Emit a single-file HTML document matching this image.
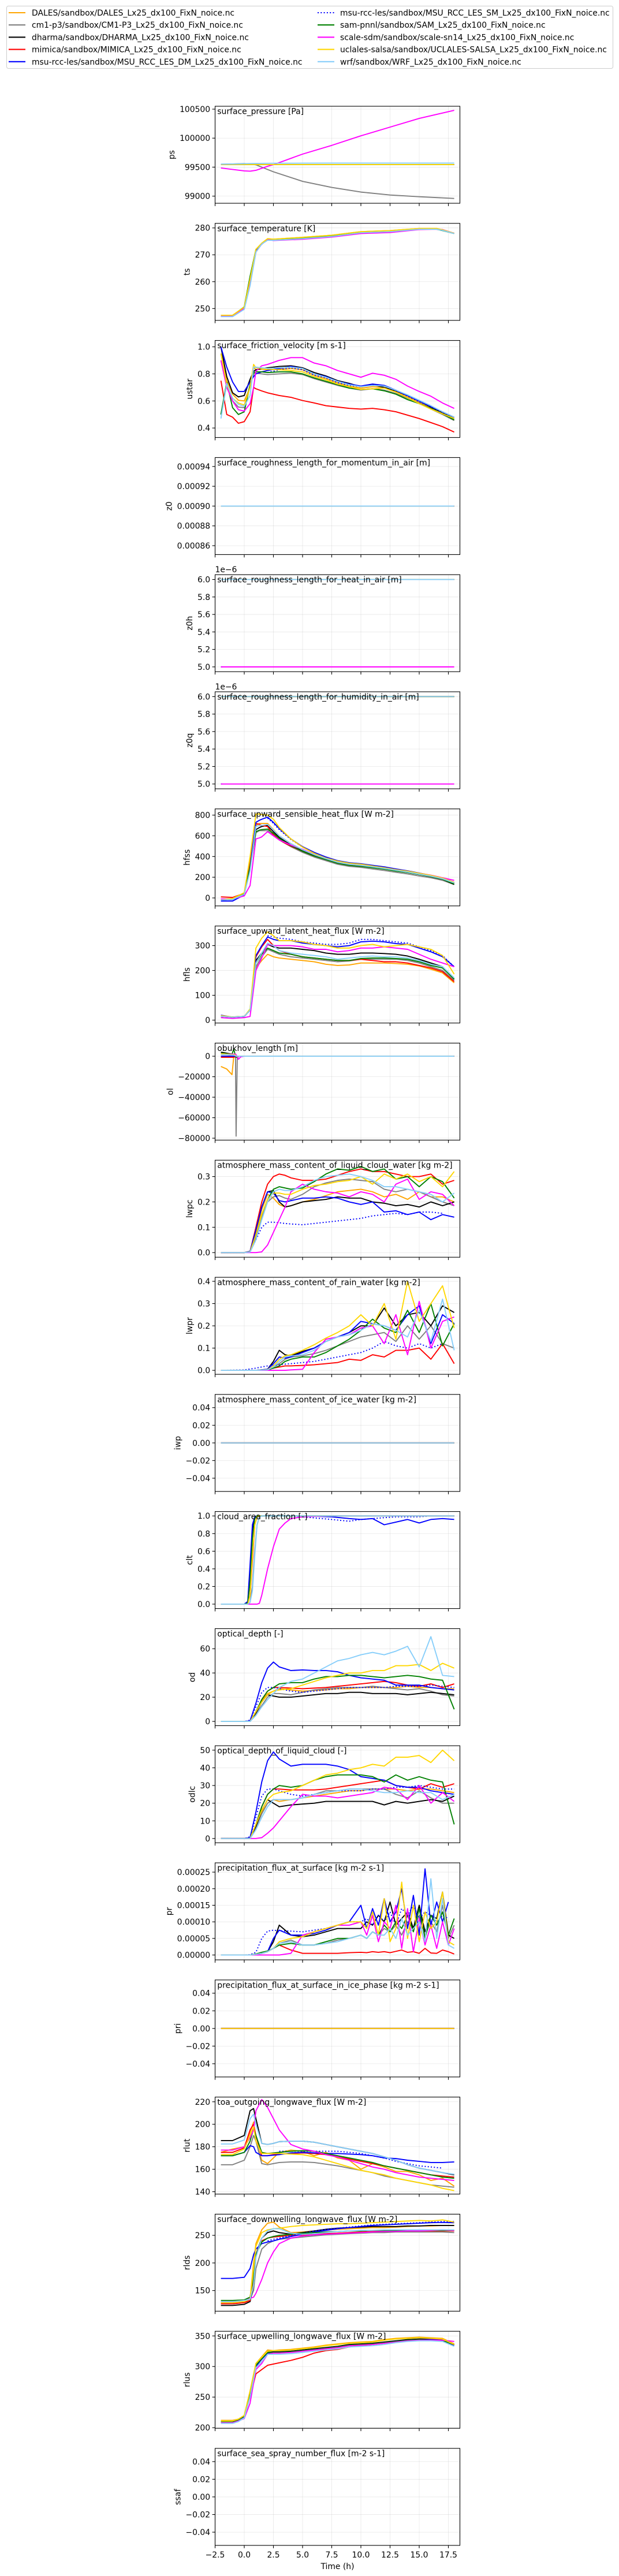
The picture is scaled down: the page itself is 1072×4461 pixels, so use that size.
<!DOCTYPE html>
<html><head><meta charset="utf-8"><title>Surface time series comparison</title>
<style>
html,body{margin:0;padding:0;background:#fff;}
svg{display:block;font-family:"DejaVu Sans","Liberation Sans",sans-serif;}
</style></head>
<body>
<svg id="chart" width="1072" height="4461" viewBox="0 0 1072 4461" xmlns="http://www.w3.org/2000/svg"></svg>
<script>
// ---------- legend / series ----------
const seriesNames = ["DALES/sandbox/DALES_Lx25_dx100_FixN_noice.nc","cm1-p3/sandbox/CM1-P3_Lx25_dx100_FixN_noice.nc","dharma/sandbox/DHARMA_Lx25_dx100_FixN_noice.nc","mimica/sandbox/MIMICA_Lx25_dx100_FixN_noice.nc","msu-rcc-les/sandbox/MSU_RCC_LES_DM_Lx25_dx100_FixN_noice.nc","msu-rcc-les/sandbox/MSU_RCC_LES_SM_Lx25_dx100_FixN_noice.nc","sam-pnnl/sandbox/SAM_Lx25_dx100_FixN_noice.nc","scale-sdm/sandbox/scale-sn14_Lx25_dx100_FixN_noice.nc","uclales-salsa/sandbox/UCLALES-SALSA_Lx25_dx100_FixN_noice.nc","wrf/sandbox/WRF_Lx25_dx100_FixN_noice.nc"];
const seriesColors = ["#FFA500","#808080","#000000","#FF0000","#0000FF","#0000FF","#008000","#FF00FF","#FFD700","#87CEFA"];
const xTicks = [-2.5,0,2.5,5,7.5,10,12.5,15,17.5];
const N = null;

// ---------- data ----------
const psTime = [-2,-1,0,0.5,1,1.5,2,2.5,5,7.5,10,12.5,15,18];
const psTicks = [99000,99500,100000,100500];
const psValues = [
 [99545,99545,99545,99545,99545,99545,99545,99545,99545,99545,99545,99545,99545,99545],
 [99550,99555,99562,99555,99540,99500,99460,99420,99255,99150,99070,99020,98990,98960],
 [99545,99545,99545,99545,99545,99545,99545,99545,99545,99545,99545,99545,99545,99545],
 [99545,99545,99545,99545,99545,99545,99545,99545,99545,99545,99545,99545,99545,99545],
 [99545,99545,99545,99545,99545,99545,99545,99545,99545,99545,99545,99545,99545,99545],
 [N,N,N,N,N,N,N,N,N,N,N,N,N,N],
 [99545,99545,99545,99545,99545,99545,99545,99545,99545,99545,99545,99545,99545,99545],
 [99485,99460,99435,99430,99445,99480,99515,99542,99725,99875,100040,100190,100340,100480],
 [99545,99545,99545,99545,99545,99545,99545,99545,99545,99545,99545,99545,99545,99545],
 [99552,99555,99560,99562,99563,99565,99566,99567,99568,99570,99570,99570,99570,99570]];

const tsTime = [-2,-1,0,0.5,1,1.5,2,2.5,5,7.5,10,12.5,15,16.5,17,18];
const tsTicks = [250,260,270,280];
const tsValues = [
 [247.5,247.5,250.5,261,272,274.3,276,275.8,276.5,277.3,278.6,279,279.8,279.8,279.3,278],
 [247.3,247.3,250.2,261,271.5,274,275.6,275.4,276.2,277,278.3,278.7,279.6,279.6,279.2,278],
 [247.3,247.3,250.2,261,271.5,274,275.6,275.4,276.2,277,278.3,278.7,279.6,279.6,279.2,278],
 [247.3,247.3,250.2,261,271.5,274,275.6,275.4,276.2,277,278.3,278.7,279.6,279.6,279.2,278],
 [247.1,247.1,250,260.5,271.3,274,275.6,275.4,276.1,277,278.3,278.7,279.5,279.5,279.2,278],
 [N,N,N,N,N,N,N,N,N,N,N,N,N,N,N,N],
 [247.4,247.4,250.6,262,272,274.2,275.8,275.6,276.3,277.1,278.4,278.8,279.6,279.5,279,277.9],
 [247.3,247.3,250,259,271,274,275.7,275.3,275.8,276.6,277.9,278.3,279.4,279.5,279.4,278],
 [247.5,247.5,250.5,261,272,274.3,276,275.8,276.5,277.3,278.6,279,279.8,279.8,279.3,278],
 [247,247,249.7,258.5,271,274,275.4,275.4,276,276.8,278.2,278.6,279.5,279.5,279.1,277.9]];

const ustarTime = [-2,-1.5,-1,-0.5,0,0.5,0.8,1,1.5,2,3,4,5,6,7,8,9,10,11,12,13,14,15,16,17,18];
const ustarTicks = [0.4,0.6,0.8,1.0];
const ustarValues = [
 [0.95,0.75,0.65,0.605,0.6,0.7,0.85,0.83,0.835,0.83,0.835,0.84,0.83,0.79,0.765,0.735,0.71,0.695,0.705,0.7,0.67,0.63,0.59,0.55,0.51,0.48],
 [0.5,0.72,0.6,0.555,0.55,0.72,0.8,0.805,0.8,0.795,0.8,0.805,0.795,0.765,0.74,0.715,0.695,0.68,0.69,0.68,0.655,0.62,0.585,0.54,0.5,0.455],
 [1.0,0.78,0.66,0.63,0.64,0.76,0.82,0.83,0.84,0.845,0.855,0.86,0.845,0.81,0.785,0.75,0.73,0.705,0.72,0.7,0.675,0.64,0.6,0.555,0.515,0.47],
 [0.75,0.5,0.48,0.435,0.447,0.52,0.7,0.69,0.674,0.66,0.64,0.627,0.603,0.585,0.565,0.555,0.545,0.54,0.545,0.535,0.52,0.495,0.47,0.44,0.41,0.37],
 [1.0,0.85,0.74,0.67,0.67,0.74,0.78,0.8,0.815,0.825,0.84,0.855,0.84,0.8,0.78,0.745,0.725,0.71,0.725,0.715,0.68,0.64,0.6,0.56,0.52,0.48],
 [N,N,N,N,N,N,N,N,N,0.81,0.83,0.845,0.83,0.79,0.77,0.735,0.715,0.705,0.72,0.71,0.675,0.635,0.595,0.555,0.515,0.475],
 [0.5,0.74,0.55,0.5,0.52,0.72,0.81,0.815,0.815,0.81,0.815,0.815,0.8,0.77,0.745,0.72,0.695,0.685,0.69,0.675,0.65,0.61,0.58,0.545,0.505,0.46],
 [0.9,0.7,0.6,0.535,0.525,0.58,0.7,0.82,0.86,0.87,0.9,0.92,0.92,0.88,0.86,0.825,0.8,0.775,0.805,0.79,0.76,0.71,0.67,0.635,0.585,0.545],
 [0.95,0.72,0.62,0.585,0.57,0.7,0.87,0.845,0.84,0.835,0.83,0.825,0.815,0.78,0.755,0.725,0.705,0.685,0.69,0.695,0.665,0.625,0.58,0.54,0.505,0.47],
 [0.47,0.73,0.62,0.575,0.56,0.64,0.85,0.85,0.845,0.84,0.845,0.85,0.84,0.8,0.775,0.745,0.72,0.705,0.715,0.71,0.68,0.645,0.605,0.565,0.52,0.48]];

const flatTime = [-2,-1.9,18];
const z0Ticks = [0.00086,0.00088,0.00090,0.00092,0.00094];
const z0Values = [
 [0.0009,0.0009,0.0009],[0.0009,0.0009,0.0009],[0.0009,0.0009,0.0009],[0.0009,0.0009,0.0009],
 [0.0009,0.0009,N],[N,N,N],[0.0009,0.0009,0.0009],[0.0009,0.0009,0.0009],[0.0009,0.0009,0.0009],[0.0009,0.0009,0.0009]];
const z0hTicks = [5.0,5.2,5.4,5.6,5.8,6.0];
const z0hValues = [[6,6,6],[6,6,6],[6,6,6],[6,6,6],[5,5,N],[N,N,N],[6,6,6],[5,5,5],[6,6,6],[6,6,6]];
const z0qTicks = [5.0,5.2,5.4,5.6,5.8,6.0];
const z0qValues = [[6,6,6],[6,6,6],[6,6,6],[6,6,6],[5,5,N],[N,N,N],[6,6,6],[5,5,5],[6,6,6],[6,6,6]];

const hfssTime = [-2,-1,0,0.5,1,1.3,1.5,2,2.5,3,4,5,6,7,8,9,10,11,12,13,14,15,16,17,18];
const hfssTicks = [0,200,400,600,800];
const hfssValues = [
 [-15,-5,50,350,700,720,720,720,660,600,525,465,420,385,350,330,320,305,290,270,255,235,215,190,150],
 [-15,-15,35,280,630,650,650,650,610,560,495,440,395,360,325,305,295,280,265,248,232,212,195,170,130],
 [-20,-15,40,290,660,680,690,700,640,585,510,455,410,375,340,320,310,295,280,262,246,226,205,180,130],
 [10,5,45,320,720,710,700,690,610,560,500,450,405,375,345,325,315,302,288,270,255,237,218,193,150],
 [-30,-30,30,300,730,750,760,780,730,670,570,495,440,395,360,340,330,315,300,280,262,240,218,193,145],
 [N,N,N,N,N,N,N,770,720,660,565,490,435,392,358,338,328,313,298,278,260,238,216,191,145],
 [-15,-10,40,300,640,655,660,665,625,575,505,450,405,370,335,315,305,292,278,260,245,226,206,180,135],
 [-10,-10,20,120,570,580,590,640,600,560,510,470,420,380,345,325,315,305,290,272,255,238,220,195,170],
 [-20,-5,50,400,810,810,805,800,760,680,570,490,430,385,355,335,325,308,292,273,258,238,218,192,150],
 [-20,-15,35,260,690,700,700,710,655,600,525,465,418,380,345,325,315,300,285,267,250,230,210,185,145]];

const hflsTime = [-2,-1,0,0.5,1,1.5,2,2.5,3,4,5,6,7,8,9,10,11,12,13,14,15,16,17,18];
const hflsTicks = [0,100,200,300];
const hflsValues = [
 [15,12,15,40,210,240,265,255,250,245,240,235,225,220,222,230,230,230,228,225,218,205,190,150],
 [15,12,15,40,215,255,285,275,265,255,250,245,240,235,238,245,245,245,245,240,230,215,200,160],
 [15,13,15,40,240,270,305,295,290,290,285,280,270,265,265,270,270,268,265,258,245,230,215,165],
 [15,12,15,40,255,295,325,300,280,265,255,250,245,240,240,245,240,235,235,230,220,210,195,155],
 [20,12,15,40,260,300,335,325,320,320,310,305,300,295,300,315,318,315,308,305,290,275,255,215],
 [N,N,N,N,N,N,340,335,330,325,315,310,305,305,310,325,325,320,315,310,295,280,260,215],
 [15,12,15,40,230,265,290,280,270,265,255,250,245,240,240,248,250,250,248,245,235,220,210,165],
 [10,7,10,15,200,250,305,300,300,300,295,285,285,275,280,290,290,295,290,285,265,245,230,215],
 [18,13,15,45,290,330,355,340,320,320,315,305,300,290,290,300,305,295,300,305,295,285,260,185],
 [15,12,15,40,230,270,310,300,280,270,265,260,255,245,250,255,258,255,255,250,240,225,215,170]];

const olTime = [-2,-1.5,-1.05,-0.9,-0.75,-0.7,-0.6,-0.5,-0.3,0,18];
const olTicks = [-80000,-60000,-40000,-20000,0];
const olValues = [
 [-10000,-12500,-18000,0,0,0,0,0,0,0,0],
 [2000,1500,1000,500,0,-78000,-2000,0,0,0,0],
 [4000,3000,2000,1500,1000,0,0,0,0,0,0],
 [-1000,-1000,-1000,-1000,-500,0,0,0,0,0,0],
 [0,0,0,0,0,0,0,0,0,0,0],
 [N,N,N,N,N,N,N,N,N,N,N],
 [3000,2500,2000,7000,0,-1000,-1000,0,0,0,0],
 [2500,2000,2000,2000,2000,1500,-500,-3000,-500,0,0],
 [2500,2000,1500,1500,1000,0,0,0,0,0,0],
 [1500,1500,1000,1000,500,0,0,0,0,0,0]];

const lwpcTime = [-2,0,0.5,1,1.5,2,2.5,3,3.5,4,5,6,7,8,9,10,11,12,13,14,15,16,17,18];
const lwpcTicks = [0.0,0.1,0.2,0.3];
const lwpcValues = [
 [0,0,0.004,0.08,0.17,0.23,0.215,0.19,0.18,0.185,0.2,0.21,0.225,0.24,0.245,0.25,0.24,0.22,0.23,0.21,0.24,0.22,0.22,0.2],
 [0,0,0.003,0.06,0.14,0.2,0.22,0.225,0.215,0.21,0.23,0.26,0.275,0.285,0.29,0.285,0.28,0.25,0.24,0.25,0.24,0.22,0.2,0.185],
 [0,0,0.005,0.09,0.18,0.24,0.245,0.2,0.18,0.185,0.2,0.205,0.21,0.22,0.215,0.215,0.2,0.195,0.185,0.19,0.18,0.2,0.185,0.2],
 [0,0,0.005,0.1,0.2,0.27,0.3,0.31,0.305,0.295,0.285,0.285,0.29,0.305,0.32,0.33,0.32,0.32,0.31,0.3,0.3,0.31,0.27,0.285],
 [0,0,0.005,0.09,0.18,0.24,0.235,0.205,0.2,0.205,0.215,0.215,0.22,0.215,0.2,0.19,0.2,0.16,0.165,0.15,0.16,0.13,0.15,0.14],
 [0,0,0.003,0.05,0.1,0.12,0.12,0.118,0.115,0.113,0.11,0.115,0.12,0.125,0.13,0.135,0.145,0.15,0.155,0.15,0.16,0.16,0.155,N],
 [0,0,0.003,0.07,0.15,0.21,0.25,0.26,0.255,0.25,0.255,0.28,0.31,0.33,0.325,0.34,0.32,0.33,0.29,0.3,0.26,0.3,0.28,0.215],
 [0,0,0,0,0.003,0.03,0.08,0.13,0.18,0.24,0.27,0.25,0.24,0.235,0.22,0.24,0.23,0.2,0.27,0.29,0.21,0.24,0.23,0.185],
 [0,0,0.003,0.07,0.15,0.21,0.235,0.235,0.23,0.23,0.25,0.265,0.27,0.28,0.285,0.3,0.27,0.31,0.29,0.31,0.28,0.3,0.26,0.32],
 [0,0,0.002,0.05,0.13,0.2,0.24,0.25,0.245,0.245,0.26,0.285,0.3,0.305,0.31,0.3,0.285,0.26,0.26,0.25,0.24,0.23,0.2,0.235]];

const lwprTime = [-2,0,1,2,2.5,3,3.5,4,5,6,7,8,9,10,11,12,13,14,15,16,17,18];
const lwprTicks = [0.0,0.1,0.2,0.3,0.4];
const lwprValues = [
 [N,N,N,N,N,N,N,N,N,N,N,N,N,N,N,N,N,N,N,N,N,N],
 [0,0,0,0.002,0.015,0.03,0.05,0.06,0.065,0.075,0.09,0.11,0.13,0.15,0.16,0.17,0.13,0.2,0.14,0.2,0.12,0.1],
 [0,0,0,0.005,0.04,0.09,0.07,0.065,0.085,0.1,0.13,0.15,0.17,0.2,0.2,0.28,0.2,0.25,0.26,0.2,0.29,0.26],
 [0,0,0,0.002,0.01,0.015,0.02,0.02,0.022,0.025,0.03,0.035,0.05,0.045,0.07,0.06,0.09,0.09,0.1,0.05,0.12,0.03],
 [0,0,0,0.005,0.03,0.06,0.055,0.06,0.08,0.1,0.13,0.15,0.17,0.22,0.21,0.2,0.18,0.25,0.29,0.12,0.25,0.21],
 [0,0.002,0.01,0.02,0.022,0.025,0.028,0.03,0.035,0.04,0.05,0.06,0.07,0.08,0.1,0.13,0.11,0.1,0.12,0.1,0.12,N],
 [0,0,0,0.002,0.01,0.02,0.04,0.05,0.06,0.06,0.08,0.11,0.14,0.18,0.23,0.19,0.17,0.27,0.17,0.3,0.11,0.21],
 [0,0,0,0,0,0,0,0.002,0.005,0.08,0.14,0.15,0.16,0.19,0.2,0.12,0.25,0.07,0.31,0.1,0.22,0.24],
 [0,0,0,0.003,0.02,0.05,0.065,0.07,0.09,0.115,0.145,0.17,0.2,0.25,0.2,0.3,0.14,0.4,0.22,0.3,0.38,0.19],
 [0,0,0,0.002,0.015,0.04,0.06,0.065,0.07,0.09,0.13,0.15,0.16,0.18,0.21,0.2,0.18,0.15,0.27,0.13,0.32,0.09]];

const iwpTicks = [-0.04,-0.02,0.00,0.02,0.04];
const iwpValues = [[0,0,0],[0,0,0],[0,0,0],[0,0,0],[0,0,N],[N,N,N],[0,0,0],[0,0,0],[0,0,0],[0,0,0]];

const cltTime = [-2,0,0.3,0.5,0.7,0.9,1.1,1.3,1.5,2,2.5,3,3.5,4,5,7.5,9,10,11,12,13,14,15,16,17,18];
const cltTicks = [0.0,0.2,0.4,0.6,0.8,1.0];
const cltValues = [
 [0,0,0.02,0.3,0.8,0.98,1,1,1,1,1,1,1,1,1,1,1,1,1,1,1,1,1,1,1,1],
 [0,0,0,0.02,0.2,0.6,0.9,0.99,1,1,1,1,1,1,1,1,1,1,1,1,1,1,1,1,1,1],
 [0,0,0.02,0.35,0.85,0.98,1,1,1,1,1,1,1,1,1,1,1,1,1,1,1,1,1,1,1,1],
 [0,0,0,0.1,0.5,0.9,0.99,1,1,1,1,1,1,1,1,1,1,1,1,1,1,1,1,1,1,1],
 [0,0,0.03,0.45,0.9,0.99,1,1,1,1,1,1,1,1,1,0.99,0.97,0.96,0.97,0.9,0.93,0.96,0.92,0.96,0.97,0.96],
 [0,0,0.02,0.4,0.88,0.99,1,1,1,1,1,1,1,1,0.99,0.96,0.94,0.96,0.97,0.98,0.99,0.99,0.99,1,1,1],
 [0,0,0.01,0.25,0.75,0.97,1,1,1,1,1,1,1,1,1,1,1,1,1,1,1,1,1,1,1,1],
 [0,0,0,0,0,0,0,0.01,0.1,0.4,0.65,0.85,0.92,0.97,0.99,1,1,1,1,1,1,1,1,1,1,1],
 [0,0,0,0.1,0.55,0.9,0.99,1,1,1,1,1,1,1,1,1,1,1,1,1,1,1,1,1,1,1],
 [0,0,0,0.02,0.15,0.55,0.9,0.99,1,1,1,1,1,1,1,1,1,1,1,1,1,1,1,1,1,1]];

const odTime = [-2,0,0.5,1,1.5,2,2.5,3,4,5,6,7,8,9,10,11,12,13,14,15,16,17,18];
const odTicks = [0,20,40,60];
const odValues = [
 [0,0,0,8,17,23,25,27,26,25,25.5,26,27,27,28,28,28,28,29,28,28,27,27],
 [0,0,0,6,13,20,23,23,22,24,26,27,28,28,28,29,28,27,26,27,25,22,21],
 [0,0,0,7,16,22,21,20,20,21,22,23,23,24,24,23,23,23,22,23,24,23,22],
 [0,0,0,8,18,25,28,28,27.5,27,27.5,28,29,30,31,32,33,32,30,29,31,28,31],
 [0,0,0.5,15,32,44,49,45,42,42.5,42,42,41,38,36,35,34,30,30,30,28,27,26],
 [0,0,1,12,24,28,28,27,25,24,25,26,27,28,28,28,28,29,29,29,30,29,28],
 [0,0,0,8,18,25,28,31,32,32,35,37,37,38,38,37,36,37,38,37,35,34,10],
 [N,N,N,N,N,N,N,N,N,N,N,N,N,N,N,N,N,N,N,N,N,N,N],
 [0,0,0,8,16,22,25,26,27,30,33,36,38,40,40,42,42,46,46,47,42,48,44],
 [0,0,0,5,12,18,23,28,33,35,40,45,50,52,55,57,55,58,62,45,70,38,37]];

const odlcTime = [-2,0,0.5,1,1.5,2,2.5,3,4,5,6,7,8,9,10,11,12,13,14,15,16,17,18];
const odlcTicks = [0,10,20,30,40,50];
const odlcValues = [
 [0,0,0,7,15,20,22,21,22,23,24,25,26,27,27,28,28,28,27,28,28,27,26],
 [0,0,0,6,14,20,22,22,22,23,25,27,27,28,28,28,28,25,23,27,23,20,20],
 [0,0,0,7,16,22,20,18,19,19.5,20,21,21,21,21,21,19,21,20,21,22,21,24],
 [0,0,0,8,18,25,28,28,27.5,27.5,27.5,28,29,30,31,32,33,30,29,28,31,29,31],
 [0,0,0.5,15,32,44,49,45,41,42,42,42,41,39,35,34,33,30,29,29,27,26,25],
 [0,0,1,12,24,28,28,27,25,24,25,26,27,27,27,28,28,29,29,30,29,28,28],
 [0,0,0,8,18,25,28,30,29,30,33,35,36,36,36,35,32,36,33,35,33,32,8],
 [0,0,0,0,0.5,3,6,10,18,25,24,24,23,24,25,26,29,28,22,30,20,26,21],
 [0,0,0,8,16,22,25,26,27,30,33,36,37,39,40,42,41,46,46,47,43,50,44],
 [0,0,0,5,12,18,22,22,22,23,25,26,27,28,28,27,26,26,27,26,26,22,25]];

// precipitation values in units of 1e-5 kg m-2 s-1
const prTime = [-2,0,0.5,1,1.5,2,2.5,3,4,5,6,7,8,9,10,10.5,11,11.5,12,12.5,13,13.5,14,14.5,15,15.5,16,16.5,17,17.5,18];
const prTicks = [0,5,10,15,20,25];
const prValues = [
 [N,N,N,N,N,N,N,N,N,N,N,N,N,N,N,N,N,N,N,N,N,N,N,N,N,N,N,N,N,N,N],
 [0,0,0,0.2,0.5,1,2,3.5,4.5,3,3,3.5,4.5,5,6,5,7,6,8,7,9,6,10,8,12,6,10,7,15,5,9],
 [0,0,0,0.2,0.5,1,4,9,6,5.5,6,7,8,8,8,10,9,12,10,16,9,11,13,8,15,7,12,11,19,6,5],
 [0,0,0,0.2,0.5,1,2,3,1.5,0.5,0.5,0.5,0.5,0.7,0.8,0.7,1,0.8,1,0.7,1.1,1.5,0.8,1,0.5,2,0.6,0.5,1.5,1,0.3],
 [0,0,0,0.2,0.5,1,5,7.5,6,6,6.5,7.5,9,10,15,8,14,9,17,10,13,20,8,18,6,26,9,16,10,16,N],
 [0,0,0.1,0.8,5,7.2,7.5,7.3,7.2,7,7.5,8,9,10,10,11,9,12,10,13,9,14,12,15,11,13,12,10,12,11,N],
 [0,0,0,0.3,0.8,1.2,2,3,3.5,3,3,4,5,5,6,5,7,6,9,7,10,8,12,7,14,5,12,9,13,6,11],
 [0,0,0,0,0,0,0,0,0.5,6,7,8,9,9,10,6,12,4,10,8,15,2,14,1,11,3,9,2,10,3,8],
 [0,0,0,0.2,0.5,1,2,4,5,5.5,7,8,9,10,10,8,13,6,17,4,8,22,5,15,4,13,8,10,19,4,3],
 [0,0,0,0.2,0.5,1,2,3.5,4,3,3,3.5,4,5,6,5,7,6,6,8,5,11,6,8,10,4,23,5,17,3,2]];

const priTicks = [-0.04,-0.02,0.00,0.02,0.04];
const priValues = [[0,0,0],[0,0,0],[0,0,0],[0,0,0],[0,0,0],[N,N,N],[0,0,0],[0,0,0],[0,0,0],[N,N,N]];

const lwTime = [-2,-1,0,0.5,0.8,1,1.5,2,2.5,3,4,5,6,7,8,9,10,11,12,13,14,15,16,17,18];
const rlutTicks = [140,160,180,200,220];
const rlutValues = [
 [175,178,180,193,202,185,168,165,170,175,177,176,172,175,170,168,160,165,162,158,158,155,150,152,145],
 [164,164,168,180,190,185,165,164,165,166,166.5,166.5,166,164.5,163,161,159,157,154,152,150,148,146,145,144],
 [185.5,185.5,190,212,214,205,183,182,183,184.5,185,185,184,182,180,178,176,174,171,168,164,161,159,157,155],
 [175,175,179,195,200,190,172,172,173,173.5,174,174.5,174,173,171,169,167,165,163,161,159,157,155,154,153],
 [172,172,175,181,180,175,172,172,172.5,173,174.5,175,174.5,174,174,173.5,173,172,170,169.5,168,167,166,166,166.5],
 [N,N,N,N,N,N,N,N,N,176,176,176,176,176,176,175,174,172,170,167,165,163,162,161,N],
 [172,172,175,185,196,190,175,174,174.5,175,176,176.5,176,174,172,170,168,166,163,161,159,157,155,153,152],
 [177,177,180,188,195,212,222,215,205,195,182,178,176,173,171,168,165,162,160,157,155,153,152,151,150],
 [173,173,178,190,198,185,174,174,174,174,173.5,173,171,168,165,162,159,157,155,152,150,148,146,143,141],
 [182.5,182.5,186,205,209,200,183,182,183,184.5,185,185,184,182,180,178,176,174,171,168,164,161,159,157,155.5]];

const rldsTicks = [150,200,250];
const rldsValues = [
 [126,126,128,135,200,235,260,272,274,265,255,256,258,260,261,262,263,264,264,265,266,267,267,268,268],
 [128,128,130,135,150,190,225,235,240,243,245,247,249,251,252,253,254,255,255,256,256,256,256,256,255],
 [123,123,125,130,160,215,245,255,258,255,252,255,258,261,263,264,265,266,266,266,267,267,268,268,268],
 [126,126,128,132,170,215,240,245,247,248,250,251,252,253,254,255,256,257,257,258,258,258,258,258,258],
 [172,172,174,190,215,225,235,238,240,243,248,252,256,259,262,264,266,268,269,270,271,272,273,273.5,273],
 [N,N,N,N,N,N,N,240,243,245,250,254,258,261,263,265,267,269,270,271,272,273,274,275,275],
 [132,132,133,138,175,215,238,245,248,250,252,254,255,256,257,258,258,259,259,259,259,259,259,259,259],
 [128,128,130,136,138,145,170,200,220,235,245,249,251,252,253,254,255,256,257,257,258,258,259,260,259],
 [128,128,130,135,190,230,255,260,262,263,266,268,269,270,271,271,272,273,274,275,276,277,276,278,274],
 [130,130,132,134,160,210,245,258,262,262,254,252,253,255,257,258,259,259,260,260,260,260,260,260,260]];

const rlusTime = [-2,-1,-0.5,0,0.5,1,1.5,2,2.5,3,4,5,6,7,8,9,10,11,12,13,14,15,16,17,18];
const rlusTicks = [200,250,300,350];
const rlusValues = [
 [212,212,214,220,260,305,316,327,326,327,328,330,332,335,337,339,340,341,344,346,347,348,347,346,337],
 [210,210,213,218,255,300,312,322,323,323,324,326,328,330,332,335,336,337,339,341,343,344,344,343,335],
 [210,210,213,219,256,301,313,323,324,324,325,327,329,331,333,336,337,338,340,342,344,345,345,344,336],
 [210,210,213,218,250,288,295,302,304,306,310,315,322,326,328,332,334,336,338,340,342,343,343,342,335],
 [210,210,213,218,255,300,312,322,323,323,324,326,328,330,332,335,336,337,339,341,343,344,344,343,335],
 [N,N,N,N,N,N,N,N,N,N,N,N,N,N,N,N,N,N,N,N,N,N,N,N,N],
 [210,210,213,219,258,302,313,323,323,323,324,326,328,330,332,335,336,337,339,341,343,344,343,342,336],
 [208,208,211,215,240,295,305,320,322,322,323,325,327,329,331,334,335,336,338,340,342,343,343,343,341],
 [211,211,214,220,260,305,315,325,326,326,327,329,331,334,336,338,339,340,343,345,346,347,346,345,336],
 [207,207,210,216,250,298,308,320,320,320,321,323,325,327,329,332,333,334,336,339,341,342,342,341,333]];

const ssafTicks = [-0.04,-0.02,0.00,0.02,0.04];
const ssafValues = [[N,N,N],[N,N,N],[N,N,N],[N,N,N],[N,N,N],[N,N,N],[N,N,N],[N,N,N],[N,N,N],[N,N,N]];

// ---------- panel configuration ----------
const panels = [
 {key:"ps",title:"surface_pressure [Pa]",ylabel:"ps",ylim:[98877,100550],ticks:psTicks,dec:0,mult:1,time:psTime,vals:psValues},
 {key:"ts",title:"surface_temperature [K]",ylabel:"ts",ylim:[245.6,281.7],ticks:tsTicks,dec:0,mult:1,time:tsTime,vals:tsValues},
 {key:"ustar",title:"surface_friction_velocity [m s-1]",ylabel:"ustar",ylim:[0.33,1.047],ticks:ustarTicks,dec:1,mult:1,time:ustarTime,vals:ustarValues},
 {key:"z0",title:"surface_roughness_length_for_momentum_in_air [m]",ylabel:"z0",ylim:[0.000851,0.000949],ticks:z0Ticks,dec:5,mult:1,time:flatTime,vals:z0Values},
 {key:"z0h",title:"surface_roughness_length_for_heat_in_air [m]",ylabel:"z0h",ylim:[4.945,6.055],ticks:z0hTicks,dec:1,mult:1,time:flatTime,vals:z0hValues,offset:"1e\u22126"},
 {key:"z0q",title:"surface_roughness_length_for_humidity_in_air [m]",ylabel:"z0q",ylim:[4.945,6.055],ticks:z0qTicks,dec:1,mult:1,time:flatTime,vals:z0qValues,offset:"1e\u22126"},
 {key:"hfss",title:"surface_upward_sensible_heat_flux [W m-2]",ylabel:"hfss",ylim:[-77,860],ticks:hfssTicks,dec:0,mult:1,time:hfssTime,vals:hfssValues},
 {key:"hfls",title:"surface_upward_latent_heat_flux [W m-2]",ylabel:"hfls",ylim:[-11.6,378.9],ticks:hflsTicks,dec:0,mult:1,time:hflsTime,vals:hflsValues},
 {key:"ol",title:"obukhov_length [m]",ylabel:"ol",ylim:[-81880,12800],ticks:olTicks,dec:0,mult:1,time:olTime,vals:olValues},
 {key:"lwpc",title:"atmosphere_mass_content_of_liquid_cloud_water [kg m-2]",ylabel:"lwpc",ylim:[-0.0182,0.3646],ticks:lwpcTicks,dec:1,mult:1,time:lwpcTime,vals:lwpcValues},
 {key:"lwpr",title:"atmosphere_mass_content_of_rain_water [kg m-2]",ylabel:"lwpr",ylim:[-0.0179,0.418],ticks:lwprTicks,dec:1,mult:1,time:lwprTime,vals:lwprValues},
 {key:"iwp",title:"atmosphere_mass_content_of_ice_water [kg m-2]",ylabel:"iwp",ylim:[-0.055,0.055],ticks:iwpTicks,dec:2,mult:1,time:flatTime,vals:iwpValues},
 {key:"clt",title:"cloud_area_fraction [-]",ylabel:"clt",ylim:[-0.05,1.05],ticks:cltTicks,dec:1,mult:1,time:cltTime,vals:cltValues},
 {key:"od",title:"optical_depth [-]",ylabel:"od",ylim:[-3.5,76.6],ticks:odTicks,dec:0,mult:1,time:odTime,vals:odValues},
 {key:"odlc",title:"optical_depth_of_liquid_cloud [-]",ylabel:"odlc",ylim:[-2.4,52.5],ticks:odlcTicks,dec:0,mult:1,time:odlcTime,vals:odlcValues},
 {key:"pr",title:"precipitation_flux_at_surface [kg m-2 s-1]",ylabel:"pr",ylim:[-1.47,27.8],ticks:prTicks,dec:5,mult:1e-5,time:prTime,vals:prValues},
 {key:"pri",title:"precipitation_flux_at_surface_in_ice_phase [kg m-2 s-1]",ylabel:"pri",ylim:[-0.055,0.055],ticks:priTicks,dec:2,mult:1,time:flatTime,vals:priValues},
 {key:"rlut",title:"toa_outgoing_longwave_flux [W m-2]",ylabel:"rlut",ylim:[137.9,224.2],ticks:rlutTicks,dec:0,mult:1,time:lwTime,vals:rlutValues},
 {key:"rlds",title:"surface_downwelling_longwave_flux [W m-2]",ylabel:"rlds",ylim:[112.6,288.4],ticks:rldsTicks,dec:0,mult:1,time:lwTime,vals:rldsValues},
 {key:"rlus",title:"surface_upwelling_longwave_flux [W m-2]",ylabel:"rlus",ylim:[199,357.6],ticks:rlusTicks,dec:0,mult:1,time:rlusTime,vals:rlusValues},
 {key:"ssaf",title:"surface_sea_spray_number_flux [m-2 s-1]",ylabel:"ssaf",ylim:[-0.055,0.055],ticks:ssafTicks,dec:2,mult:1,time:flatTime,vals:ssafValues}
];

// ---------- rendering ----------
const NS = "http://www.w3.org/2000/svg";
const svg = document.getElementById("chart");
const AX_LEFT = 372.5, AX_W = 424, AX_H = 168, TOP0 = 184, PITCH = 202.8;
const XMIN = -2.5, XMAX = 18.49;
const FS = 13.9;
function mk(tag, attrs, parent) {
  const e = document.createElementNS(NS, tag);
  for (const k in attrs) e.setAttribute(k, attrs[k]);
  (parent || svg).appendChild(e);
  return e;
}
function fmt(v, dec) {
  const s = Math.abs(v).toFixed(dec);
  return (v < -1e-12 ? "\u2212" : "") + s;
}
const xScale = t => AX_LEFT + (t - XMIN) / (XMAX - XMIN) * AX_W;

// legend
const lg = mk("g", {});


const lbox = mk("rect", {x:11.5, y:10.5, width:1050, height:108, rx:3, fill:"#fff", stroke:"#cccccc", "stroke-width":1}, lg);


seriesNames.forEach((nm, i) => {
  const col = i < 5 ? 0 : 1, row = i % 5;
  const hx = col === 0 ? 15 : 550, tx = col === 0 ? 55 : 589;
  const cy = 22 + row * 21.2;
  const g = mk("g", {}, lg);
  
  
  const ln = mk("line", {x1:hx, x2:hx+29, y1:cy, y2:cy, stroke:seriesColors[i], "stroke-width":2.1}, g);
  if (i === 5) ln.setAttribute("stroke-dasharray", "2,3.3");
  
  
  const t = mk("text", {x:tx, y:cy+5, "font-size":FS, fill:"#000"}, g);
  t.textContent = nm;
  
  
});

panels.forEach((p, i) => {
  const top = TOP0 + i * PITCH, bot = top + AX_H;
  const yScale = v => bot - (v - p.ylim[0]) / (p.ylim[1] - p.ylim[0]) * AX_H;
  const g = mk("g", {});
  
  
  const bg = mk("rect", {x:AX_LEFT, y:top, width:AX_W, height:AX_H, fill:"#fff"}, g);
  
  
  // grid
  xTicks.forEach(t => {
    const gl = mk("line", {x1:xScale(t), x2:xScale(t), y1:top, y2:bot, stroke:"#b0b0b0", "stroke-opacity":0.3, "stroke-width":0.8}, g);
    
    
  });
  p.ticks.forEach(v => {
    const gl = mk("line", {x1:AX_LEFT, x2:AX_LEFT+AX_W, y1:yScale(v), y2:yScale(v), stroke:"#b0b0b0", "stroke-opacity":0.3, "stroke-width":0.8}, g);
    
    
  });
  // clip
  const cp = mk("clipPath", {id:"clip" + i}, g);
  mk("rect", {x:AX_LEFT, y:top, width:AX_W, height:AX_H}, cp);
  const sg = mk("g", {"clip-path":"url(#clip" + i + ")"}, g);
  
  
  p.vals.forEach((arr, si) => {
    let d = "", pen = false;
    arr.forEach((v, k) => {
      if (v === null || v === undefined) { pen = false; return; }
      d += (pen ? "L" : "M") + xScale(p.time[k]).toFixed(2) + "," + yScale(v).toFixed(2);
      pen = true;
    });
    if (!d) return;
    const path = mk("path", {d:d, fill:"none", stroke:seriesColors[si], "stroke-width":1.9, "stroke-linejoin":"round", "stroke-linecap":"butt"}, sg);
    if (si === 5) path.setAttribute("stroke-dasharray", "2,3.3");
    
    
  });
  // frame
  const fr = mk("rect", {x:AX_LEFT, y:top, width:AX_W, height:AX_H, fill:"none", stroke:"#000", "stroke-width":1.1}, g);
  
  
  // y ticks
  let maxW = 0;
  p.ticks.forEach(v => {
    const y = yScale(v);
    const tk = mk("line", {x1:AX_LEFT-4.9, x2:AX_LEFT, y1:y, y2:y, stroke:"#000", "stroke-width":1.1}, g);
    
    
    const tl = mk("text", {x:AX_LEFT-8.4, y:y+5, "font-size":FS, "text-anchor":"end", fill:"#000"}, g);
    tl.textContent = fmt(v * p.mult, p.dec);
    
    
    try { maxW = Math.max(maxW, tl.getComputedTextLength()); } catch(e) { maxW = Math.max(maxW, tl.textContent.length * 8.8); }
  });
  // x ticks
  xTicks.forEach(t => {
    const tk = mk("line", {x1:xScale(t), x2:xScale(t), y1:bot, y2:bot+4.9, stroke:"#000", "stroke-width":1.1}, g);
    
    
    if (i === panels.length - 1) {
      const tl = mk("text", {x:xScale(t), y:bot+21, "font-size":FS, "text-anchor":"middle", fill:"#000"}, g);
      tl.textContent = fmt(t, 1);
      
      
    }
  });
  // y label
  const lx = AX_LEFT - 8.4 - maxW - 4 - 5;
  const ly = top + AX_H / 2;
  const yl = mk("text", {x:lx, y:ly, "font-size":FS, "text-anchor":"middle", transform:"rotate(-90 " + lx + " " + ly + ")", fill:"#000"}, g);
  yl.textContent = p.ylabel;
  
  
  // title inside axes
  const tt = mk("text", {x:AX_LEFT+3.8, y:top+13.5, "font-size":FS, fill:"#000"}, g);
  tt.textContent = p.title;
  
  
  if (p.offset) {
    const ot = mk("text", {x:AX_LEFT, y:top-4, "font-size":FS, fill:"#000"}, g);
    ot.textContent = p.offset;
    
    
  }
});

const xl = mk("text", {x:AX_LEFT + AX_W/2, y:4449, "font-size":FS, "text-anchor":"middle", fill:"#000"});
xl.textContent = "Time (h)";


</script>
</body></html>
